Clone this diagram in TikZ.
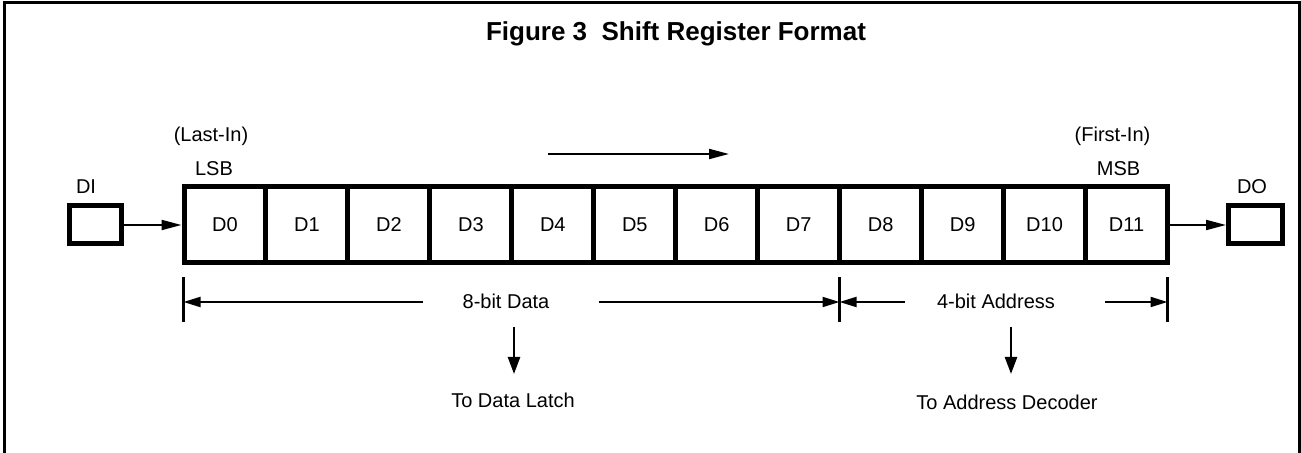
\documentclass[tikz,border=0pt]{standalone}
\usepackage{fontspec}
\setmainfont{Liberation Sans}
\usetikzlibrary{arrows.meta}
\begin{document}
\begin{tikzpicture}[x=0.5pt,y=-0.5pt,
  every node/.style={font=\fontsize{10}{12}\selectfont, inner sep=0pt},
  cell/.style={draw, line width=2.5pt, minimum width=40.98pt, minimum height=38pt},
  pinbox/.style={draw, line width=2.5pt, minimum height=19pt},
  link/.style={line width=1pt, -{Triangle[length=10pt,width=5pt]}},
  dim/.style={line width=1pt, -{Triangle[length=8.5pt,width=5pt]}},
  drop/.style={line width=1.2pt, -{Triangle[length=8.5pt,width=6pt]}},
  tickline/.style={line width=1.2pt},
  lbl/.style={anchor=base},
]
\useasboundingbox (0,0) rectangle (1301,453);

% frame
\draw[line width=1.5pt] (4.5,453) -- (4.5,3) -- (1299.5,3) -- (1299.5,453);

% title
\node[lbl, font=\fontsize{13}{15}\selectfont\bfseries] (title) at (676,41) {Figure 3\ \ Shift Register Format};

% register cells
\foreach \i in {0,...,11}
  \node[cell] (c\i) at ({184+81.96*(\i+0.5)},225) {D\i};

% input and output pins
\node[pinbox, minimum width=26pt] (di) at (95.25,225) {};
\node[pinbox, minimum width=27pt] (do) at (1255.5,225) {};
\node[lbl] (dil) at (86,194) {DI};
\node[lbl] (dol) at (1252,194) {DO};
\draw[link] (di.east) -- (c0.west);
\draw[link] (c11.east) -- (do.west);

% end labels
\node[lbl] (lastin) at (211,141.5) {(Last-In)};
\node[lbl] (lsb) at (214,176) {LSB};
\node[lbl] (firstin) at (1112.5,141.5) {(First-In)};
\node[lbl] (msb) at (1118.5,176) {MSB};

% shift direction
\coordinate (sa) at (548,154);
\coordinate (sb) at (729,154);
\draw[link] (sa) -- (sb);

% dimension ticks
\coordinate (ta1) at (183.5,277); \coordinate (ta2) at (183.5,322);
\coordinate (tb1) at (839.5,277); \coordinate (tb2) at (839.5,322);
\coordinate (tc1) at (1167.5,277); \coordinate (tc2) at (1167.5,322);
\draw[tickline] (ta1) -- (ta2);
\draw[tickline] (tb1) -- (tb2);
\draw[tickline] (tc1) -- (tc2);
\coordinate (pa) at (183.5,302);
\coordinate (pb) at (839.5,302);
\coordinate (pc) at (1167.5,302);

% data field
\node[lbl] (data) at (506,309) {8-bit Data};
\coordinate (da) at (423,302);
\coordinate (db) at (599,302);
\draw[dim] (da) -- (pa);
\draw[dim] (db) -- (pb);

% address field
\node[lbl] (addr) at (996,309) {4-bit Address};
\coordinate (aa) at (905,302);
\coordinate (ab) at (1105,302);
\draw[dim] (aa) -- (pb);
\draw[dim] (ab) -- (pc);

% destinations
\node[lbl] (latch) at (513,408) {To Data Latch};
\node[lbl] (dec) at (1007,410) {To Address Decoder};
\coordinate (la) at (514,327);
\coordinate (lb) at (514,374);
\coordinate (ka) at (1011,327);
\coordinate (kb) at (1011,374);
\draw[drop] (la) -- (lb);
\draw[drop] (ka) -- (kb);
\end{tikzpicture}
\end{document}
